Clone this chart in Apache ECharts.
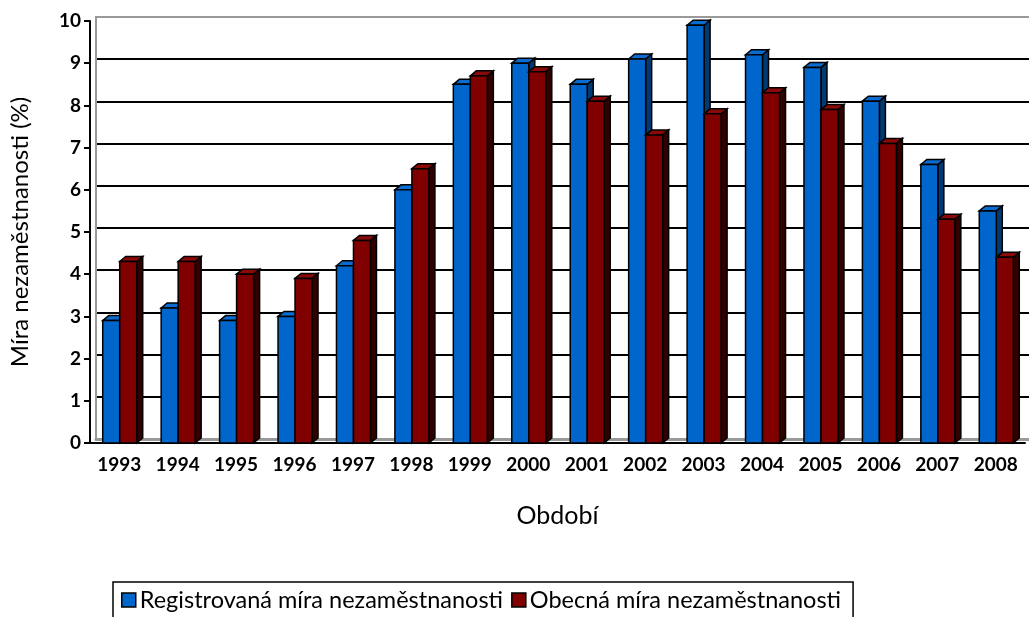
<!DOCTYPE html>
<html>
<head>
<meta charset="utf-8">
<script src="https://cdn.jsdelivr.net/npm/echarts@6/dist/echarts.min.js"></script>
<style>
    html, body { margin: 0; padding: 0; background: #fff; }
    #chart { width: 1029px; height: 617px; }
</style>
</head>
<body>
<div id="chart"></div>
<script>
    var years = ['1993', '1994', '1995', '1996', '1997', '1998', '1999', '2000',
                 '2001', '2002', '2003', '2004', '2005', '2006', '2007', '2008'];
    var registrovana = [2.9, 3.2, 2.9, 3.0, 4.2, 6.0, 8.5, 9.0, 8.5, 9.1, 9.9, 9.2, 8.9, 8.1, 6.6, 5.5];
    var obecna = [4.3, 4.3, 4.0, 3.9, 4.8, 6.5, 8.7, 8.8, 8.1, 7.3, 7.8, 8.3, 7.9, 7.1, 5.3, 4.4];
    var yTicks = [0, 10, 1]; // min, max, interval

    var barW = 17;   // sirka sloupce
    var dx = 6, dy = -5; // hloubka 3D

    var colors = [
        { front: '#0066CC', top: '#0A6BD0', side: '#003A75' },
        { front: '#800000', top: '#8A0A0A', side: '#330000' }
    ];

    function toData(arr) {
        return arr.map(function (v, i) { return [i, v]; });
    }

    function renderBar(params, api) {
        var v = api.value(1);
        var top = api.coord([api.value(0), v]);
        var base = api.coord([api.value(0), 0]);
        var c = colors[params.seriesIndex];
        var x0 = params.seriesIndex === 0 ? top[0] - barW + 0.5 : top[0] + 0.5;
        var line = { stroke: '#000', lineWidth: 1.5, lineJoin: 'miter' };
        return {
            type: 'group',
            children: [
                {
                    type: 'polygon',
                    shape: { points: [[x0 + barW, top[1]], [x0 + barW + dx, top[1] + dy], [x0 + barW + dx, base[1] + dy], [x0 + barW, base[1]]] },
                    style: Object.assign({ fill: c.side }, line)
                },
                {
                    type: 'polygon',
                    shape: { points: [[x0, top[1]], [x0 + dx, top[1] + dy], [x0 + barW + dx, top[1] + dy], [x0 + barW, top[1]]] },
                    style: Object.assign({ fill: c.top }, line)
                },
                {
                    type: 'rect',
                    shape: { x: x0, y: top[1], width: barW, height: base[1] - top[1] },
                    style: Object.assign({ fill: c.front }, line)
                }
            ]
        };
    }

    var chart = echarts.init(document.getElementById('chart'));
    var font = 'Lato, "Open Sans", sans-serif';

    var option = {
        animation: false,
        backgroundColor: '#fff',
        textStyle: { fontFamily: font },
        grid: [
            { left: 90, right: 4, top: 21, bottom: 174, outerBoundsMode: 'none' },
            { left: 96, right: 0, top: 17, bottom: 178, outerBoundsMode: 'none' }
        ],
        legend: {
            left: 113,
            top: 582,
            data: [
                { name: 'Registrovaná míra nezaměstnanosti', icon: 'rect' },
                { name: 'Obecná míra nezaměstnanosti', icon: 'rect' }
            ],
            itemWidth: 14,
            itemHeight: 14,
            itemGap: 8,
            padding: [6, 12, 14, 8],
            borderColor: '#000',
            borderWidth: 1.5,
            itemStyle: { borderColor: '#000', borderWidth: 1.5 },
            textStyle: { fontFamily: font, fontSize: 23.5, color: '#000', padding: [0, 0, 0, -1] }
        },
        xAxis: [
            {
                type: 'category',
                gridIndex: 0,
                data: years,
                axisLine: { lineStyle: { color: '#000', width: 2 } },
                axisTick: { length: 7, lineStyle: { color: '#000', width: 2 } },
                axisLabel: { color: '#000', fontWeight: 'bold', fontSize: 19, margin: 12, fontFamily: font },
                name: 'Období',
                nameLocation: 'middle',
                nameGap: 60,
                nameTextStyle: { fontSize: 25, color: '#000', fontFamily: font }
            },
            {
                type: 'category',
                gridIndex: 1,
                data: years,
                axisLine: { show: true, lineStyle: { color: '#999', width: 3 } },
                axisTick: { show: false },
                axisLabel: { show: false }
            },
            {
                type: 'category',
                gridIndex: 1,
                position: 'top',
                data: years,
                axisLine: { show: true, lineStyle: { color: '#999', width: 2 } },
                axisTick: { show: false },
                axisLabel: { show: false }
            }
        ],
        yAxis: [
            {
                type: 'value',
                gridIndex: 0,
                min: yTicks[0],
                max: yTicks[1],
                interval: yTicks[2],
                axisLine: { show: true, lineStyle: { color: '#000', width: 2 } },
                axisTick: { show: true, length: 6, lineStyle: { color: '#000', width: 2 } },
                axisLabel: { color: '#000', fontWeight: 'bold', fontSize: 19, margin: 9, fontFamily: font },
                splitLine: { show: false },
                name: 'Míra nezaměstnanosti (%)',
                nameLocation: 'middle',
                nameGap: 58,
                nameTextStyle: { fontSize: 24, color: '#000', fontFamily: font }
            },
            {
                type: 'value',
                gridIndex: 1,
                min: yTicks[0],
                max: yTicks[1],
                interval: yTicks[2],
                axisLine: { show: true, lineStyle: { color: '#999', width: 2 } },
                axisTick: { show: false },
                axisLabel: { show: false },
                splitLine: { show: true, lineStyle: { color: '#000', width: 2 } }
            }
        ],
        series: [
            {
                name: 'Registrovaná míra nezaměstnanosti',
                type: 'custom',
                xAxisIndex: 0,
                yAxisIndex: 0,
                renderItem: renderBar,
                itemStyle: { color: '#0066CC' },
                encode: { x: 0, y: 1 },
                data: toData(registrovana)
            },
            {
                name: 'Obecná míra nezaměstnanosti',
                type: 'custom',
                xAxisIndex: 0,
                yAxisIndex: 0,
                renderItem: renderBar,
                itemStyle: { color: '#800000' },
                encode: { x: 0, y: 1 },
                data: toData(obecna)
            }
        ]
    };

    chart.setOption(option);
</script>
</body>
</html>
